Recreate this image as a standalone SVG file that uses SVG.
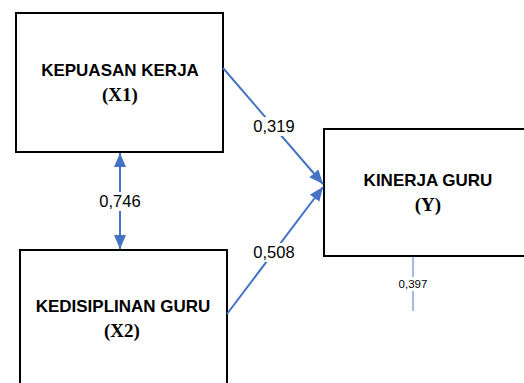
<svg xmlns="http://www.w3.org/2000/svg" width="524" height="383" viewBox="0 0 524 383">
  <style>
    .box { fill: #ffffff; stroke: #000000; stroke-width: 2; }
    .title { font-family: "Liberation Sans", Arial, sans-serif; font-weight: bold; font-size: 17px; text-anchor: middle; fill: #000000; }
    .code { font-family: "Liberation Serif", "Times New Roman", serif; font-weight: bold; font-size: 19px; text-anchor: middle; fill: #000000; }
    .path { stroke: #4472C4; stroke-width: 2; fill: none; }
    .resid { stroke: #8FAADC; stroke-width: 1.6; fill: none; }
    .coef { font-family: "Liberation Sans", Arial, sans-serif; font-size: 16.5px; text-anchor: middle; fill: #000000; }
    .coef-small { font-family: "Liberation Sans", Arial, sans-serif; font-size: 11.5px; text-anchor: middle; fill: #000000; }
    .gap { fill: #ffffff; }
  </style>
  <defs>
    <marker id="head" viewBox="0 0 14 12" refX="14" refY="6" markerWidth="14" markerHeight="12" markerUnits="userSpaceOnUse" orient="auto-start-reverse">
      <path d="M0,0 L14,6 L0,12 Z" fill="#4472C4"/>
    </marker>
  </defs>

  <rect width="524" height="383" fill="#ffffff"/>

  <g id="node-x1">
    <rect class="box" x="16" y="13" width="207" height="139"/>
    <text class="title" x="120" y="76">KEPUASAN KERJA</text>
    <text class="code" x="120" y="101">(X1)</text>
  </g>

  <g id="node-x2">
    <rect class="box" x="20" y="250" width="207" height="150"/>
    <text class="title" x="123" y="312">KEDISIPLINAN GURU</text>
    <text class="code" x="122" y="337">(X2)</text>
  </g>

  <g id="node-y">
    <rect class="box" x="324" y="129" width="220" height="127"/>
    <text class="title" x="428" y="186">KINERJA GURU</text>
    <text class="code" x="428" y="211">(Y)</text>
  </g>

  <g id="connectors">
    <!-- correlation X1 <-> X2 -->
    <line class="path" x1="120" y1="153" x2="120" y2="249" marker-start="url(#head)" marker-end="url(#head)"/>
    <rect class="gap" x="96" y="192" width="48" height="19"/>
    <text class="coef" x="120" y="207">0,746</text>

    <!-- X1 -> Y -->
    <line class="path" x1="223" y1="68" x2="323" y2="184" marker-end="url(#head)"/>
    <rect class="gap" x="250" y="117" width="48" height="19"/>
    <text class="coef" x="274" y="132">0,319</text>

    <!-- X2 -> Y -->
    <line class="path" x1="227" y1="314" x2="323" y2="187" marker-end="url(#head)"/>
    <rect class="gap" x="250" y="243" width="48" height="19"/>
    <text class="coef" x="274" y="258">0,508</text>

    <!-- residual of Y -->
    <line class="resid" x1="413" y1="257" x2="413" y2="311"/>
    <rect class="gap" x="396" y="277" width="34" height="14"/>
    <text class="coef-small" x="413" y="288">0,397</text>
  </g>
</svg>
